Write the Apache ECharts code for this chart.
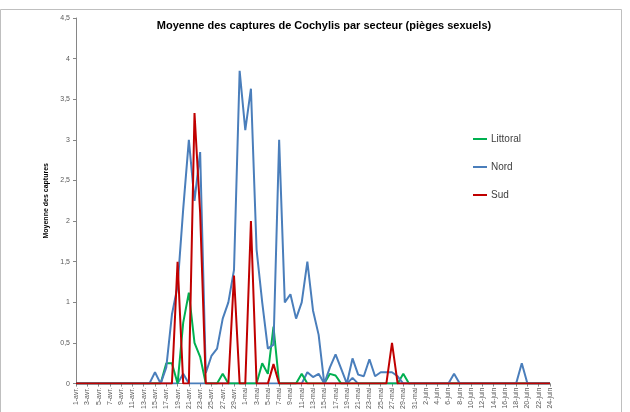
<!DOCTYPE html>
<html><head><meta charset="utf-8">
<script src="https://cdn.jsdelivr.net/npm/echarts@6/dist/echarts.min.js"></script>
<style>html,body{margin:0;padding:0;background:#fff}#c{width:630px;height:412px}</style>
</head><body><div id="c"></div>
<script>
const categories = [
"1-avr.","2-avr.","3-avr.","4-avr.","5-avr.","6-avr.","7-avr.","8-avr.","9-avr.","10-avr.",
"11-avr.","12-avr.","13-avr.","14-avr.","15-avr.","16-avr.","17-avr.","18-avr.","19-avr.","20-avr.",
"21-avr.","22-avr.","23-avr.","24-avr.","25-avr.","26-avr.","27-avr.","28-avr.","29-avr.","30-avr.",
"1-mai","2-mai","3-mai","4-mai","5-mai","6-mai","7-mai","8-mai","9-mai","10-mai",
"11-mai","12-mai","13-mai","14-mai","15-mai","16-mai","17-mai","18-mai","19-mai","20-mai",
"21-mai","22-mai","23-mai","24-mai","25-mai","26-mai","27-mai","28-mai","29-mai","30-mai",
"31-mai","1-juin","2-juin","3-juin","4-juin","5-juin","6-juin","7-juin","8-juin","9-juin",
"10-juin","11-juin","12-juin","13-juin","14-juin","15-juin","16-juin","17-juin","18-juin","19-juin",
"20-juin","21-juin","22-juin","23-juin","24-juin"];

const littoral = [
0,0,0,0,0,0,0,0,0,0,
0,0,0,0,0,0,0.25,0.25,0,0.75,
1.12,0.5,0.33,0,0,0,0.12,0,0,0,
0,0,0,0.25,0.12,0.7,0,0,0,0,
0.12,0,0,0,0,0.12,0.1,0,0,0,
0,0,0,0,0,0,0,0,0.12,0,
0,0,0,0,0,0,0,0,0,0,
0,0,0,0,0,0,0,0,0,0,
0,0,0,0,0];

const nord = [
0,0,0,0,0,0,0,0,0,0,
0,0,0,0,0.14,0,0.2,0.85,1.2,2.15,
3.0,2.25,2.85,0.13,0.34,0.43,0.8,1.0,1.4,3.85,
3.12,3.63,1.65,1.0,0.43,0.48,3.0,1.0,1.1,0.8,
1.0,1.5,0.9,0.6,0,0.2,0.36,0.18,0,0.31,
0.11,0.09,0.3,0.09,0.14,0.14,0.14,0.09,0,0,
0,0,0,0,0,0,0,0.12,0,0,
0,0,0,0,0,0,0,0,0,0.25,
0,0,0,0,0];

const nordBis = [
0,0,0,0,0,0,0,0,0,0,
0,0,0,0,0,0,0,0,0,0.12,
0,0,0,0,0,0,0,0,0,0,
0,0,0,0,0,0,0,0,0,0,
0,0.14,0.08,0.12,0,0,0,0,0,0.07,
0,0,0,0,0,0,0,0,0,0,
0,0,0,0,0,0,0,0,0,0,
0,0,0,0,0,0,0,0,0,0,
0,0,0,0,0];

const sud = [
0,0,0,0,0,0,0,0,0,0,
0,0,0,0,0,0,0,0,1.5,0,
0,3.33,2.1,0,0,0,0,0,1.33,0,
0,2.0,0,0,0,0.24,0,0,0,0,
0,0,0,0,0,0,0,0,0,0,
0,0,0,0,0,0,0.5,0,0,0,
0,0,0,0,0,0,0,0,0,0,
0,0,0,0,0,0,0,0,0,0,
0,0,0,0,0];

const yTicks = { min: 0, max: 4.5, interval: 0.5 };

const GREEN = '#00B050', BLUE = '#4A7EBB', RED = '#C00000';
const FONT = 'Liberation Sans';

function mk(name, data, color) {
  return { name, type: 'line', data, symbol: 'none', showSymbol: false,
    lineStyle: { color, width: 2 }, itemStyle: { color }, emphasis: { disabled: true } };
}

const chart = echarts.init(document.getElementById('c'), null, { renderer: 'canvas' });
chart.setOption({
  animation: false,
  backgroundColor: '#fff',
  textStyle: { fontFamily: FONT },
  title: {
    text: 'Moyenne des captures de Cochylis par secteur (pièges sexuels)',
    left: 319, textAlign: 'center', top: 15,
    textStyle: { fontFamily: FONT, fontSize: 11, fontWeight: 'bold', color: '#000' }
  },
  graphic: [{
    type: 'rect', silent: true, z: -1,
    shape: { x: 0.5, y: 9.5, width: 621, height: 420 },
    style: { fill: 'none', stroke: '#BFBFBF', lineWidth: 1 }
  }],
  legend: {
    orient: 'vertical', left: 473, top: 133, itemGap: 16, padding: 0,
    itemWidth: 14, itemHeight: 2, icon: 'rect',
    data: ['Littoral', 'Nord', 'Sud'],
    textStyle: { fontFamily: FONT, fontSize: 10, color: '#404040', padding: [0, 0, 0, -1], lineHeight: 12 }
  },
  grid: { left: 76, right: 80, top: 18, bottom: 26, containLabel: false },
  xAxis: {
    type: 'category', boundaryGap: false, data: categories,
    axisLine: { lineStyle: { color: '#868686' } },
    axisTick: { show: true, interval: 1, length: 3, lineStyle: { color: '#868686' } },
    axisLabel: { rotate: 90, interval: 1, fontSize: 7, color: '#595959', margin: 4, fontFamily: FONT },
    splitLine: { show: false }
  },
  yAxis: {
    type: 'value', min: yTicks.min, max: yTicks.max, interval: yTicks.interval,
    name: 'Moyenne des captures', nameLocation: 'middle', nameRotate: 90, nameGap: 21,
    nameTextStyle: { fontSize: 7, fontWeight: 'bold', color: '#000', fontFamily: FONT },
    axisLine: { show: true, lineStyle: { color: '#868686' } },
    axisTick: { show: true, length: 3, lineStyle: { color: '#868686' } },
    axisLabel: { fontSize: 7, color: '#595959', margin: 6, fontFamily: FONT,
      formatter: v => String(v).replace('.', ',') },
    splitLine: { show: false }
  },
  series: [
    mk('Nord bis', nordBis, BLUE),
    mk('Littoral', littoral, GREEN),
    mk('Nord', nord, BLUE),
    mk('Sud', sud, RED)
  ]
});
</script>
</body></html>
